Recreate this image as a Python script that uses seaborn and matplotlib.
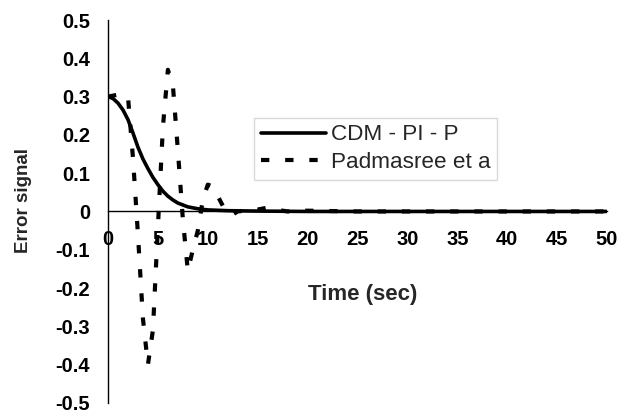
import pandas as pd
import matplotlib
matplotlib.use("Agg")
import matplotlib.pyplot as plt
import seaborn as sns

# CDM - PI - P (solid)
cdm_time = [0, 0.5, 1, 1.5, 2, 2.5, 3, 3.5, 4, 4.5, 5, 5.5, 6, 6.5, 7, 8, 9, 10, 12, 15, 20, 30, 40, 50]
cdm_err = [0.30, 0.295, 0.283, 0.265, 0.24, 0.205, 0.168, 0.137, 0.112, 0.089, 0.070, 0.053,
           0.040, 0.030, 0.022, 0.012, 0.007, 0.004, 0.002, 0.001, 0.0, 0.0, 0.0, 0.0]

# Padmasree et al (dashed)
pad_time = [0, 1, 2, 2.5, 3, 3.5, 4, 4.5, 5, 5.5, 6, 6.5, 7, 7.5, 8, 8.5, 9, 9.5, 10, 10.5,
            11, 11.5, 12, 12.5, 13, 14, 15, 16, 17, 18, 20, 25, 30, 35, 40, 45, 50]
pad_err = [0.30, 0.305, 0.30, 0.14, -0.06, -0.28, -0.40, -0.31, -0.04, 0.22, 0.37, 0.33, 0.16,
           -0.02, -0.155, -0.10, -0.05, 0.03, 0.07, 0.065, 0.04, 0.015, -0.005, -0.008, 0.0,
           0.003, 0.005, 0.01, 0.004, 0.0, 0.002, 0.0, 0.0, 0.0, 0.0, 0.0, 0.0]

series_names = ["CDM - PI - P", "Padmasree et a"]
x_ticks = list(range(0, 51, 5))
y_ticks = [-0.5, -0.4, -0.3, -0.2, -0.1, 0, 0.1, 0.2, 0.3, 0.4, 0.5]
y_tick_labels = ["-0.5", "-0.4", "-0.3", "-0.2", "-0.1", "0", "0.1", "0.2", "0.3", "0.4", "0.5"]

df_cdm = pd.DataFrame({"t": cdm_time, "e": cdm_err})
df_pad = pd.DataFrame({"t": pad_time, "e": pad_err})

sns.set_style("white")
plt.rcParams["font.family"] = ["Liberation Sans", "DejaVu Sans"]
plt.rcParams["axes.unicode_minus"] = False

fig = plt.figure(figsize=(6.19, 4.13), dpi=100)
ax = fig.add_axes([0.1745, 0.0245, 0.806, 0.927])

sns.lineplot(data=df_cdm, x="t", y="e", ax=ax, color="black", linewidth=2.6,
             label=series_names[0])
sns.lineplot(data=df_pad, x="t", y="e", ax=ax, color="black", linewidth=3.0,
             linestyle=(0, (2.0, 3.8)), label=series_names[1])

ax.set_xlim(0, 50)
ax.set_ylim(-0.5, 0.5)
ax.set_xticks(x_ticks)
ax.set_yticks(y_ticks)
ax.set_yticklabels(y_tick_labels)

# excel-style axes crossing at zero
ax.spines["left"].set_position(("data", 0))
ax.spines["bottom"].set_position(("data", 0))
ax.spines["top"].set_visible(False)
ax.spines["right"].set_visible(False)
for s in ("left", "bottom"):
    ax.spines[s].set_color("black")
    ax.spines[s].set_linewidth(1.0)

ax.tick_params(axis="x", direction="out", length=5, width=1, pad=8, labelsize=14.5, colors="black")
ax.tick_params(axis="y", direction="out", length=5, width=1, pad=8, labelsize=14.5, colors="black")
for lab in ax.get_xticklabels() + ax.get_yticklabels():
    lab.set_fontweight("bold")

ax.set_xlabel("Time (sec)", fontsize=16, fontweight="bold")
ax.xaxis.set_label_coords(0.511, 0.31)
ax.set_ylabel("Error signal", fontsize=13.5, fontweight="bold")
ax.yaxis.set_label_coords(-0.152, 0.529)

leg = ax.legend(loc="upper left", bbox_to_anchor=(0.293, 0.745), borderaxespad=0,
                fontsize=16.2, frameon=True, fancybox=False, handlelength=2.9,
                handletextpad=0.2, labelspacing=0.3, borderpad=0.3)
leg.get_frame().set_edgecolor("#d0d0d0")
leg.get_frame().set_linewidth(1.0)

fig.savefig("out.png", dpi=100)
